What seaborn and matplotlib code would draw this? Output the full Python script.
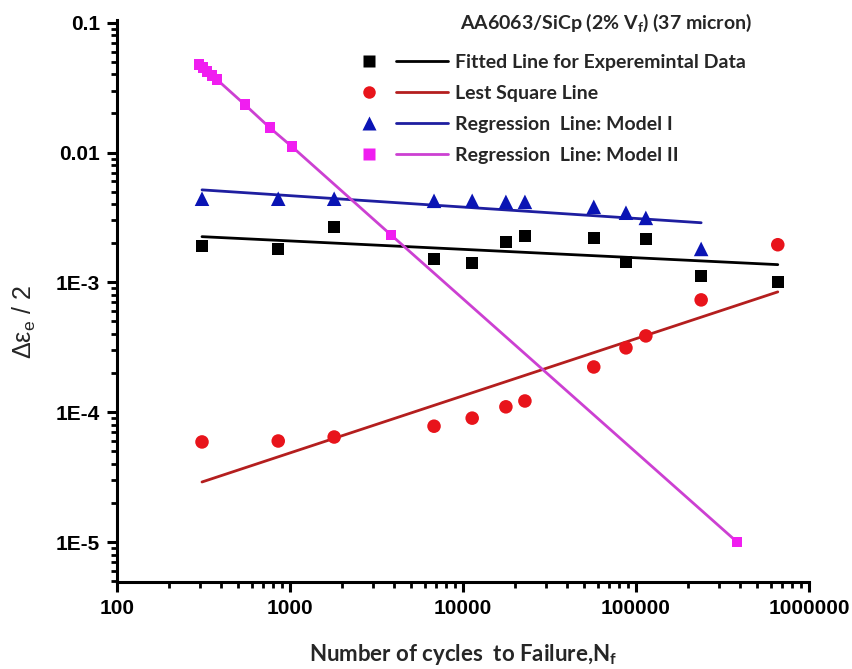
import numpy as np
import pandas as pd
import matplotlib
matplotlib.use("Agg")
import matplotlib.pyplot as plt
import seaborn as sns
from matplotlib.lines import Line2D
from matplotlib.legend_handler import HandlerTuple
from matplotlib.ticker import FixedLocator, FixedFormatter, LogLocator, NullFormatter

# ---------------- data ----------------
cycles = [310, 855, 1800, 6800, 11300, 17700, 22800, 57000, 87500, 114000, 238000, 660000]
exp_strain = [1.91e-3, 1.81e-3, 2.68e-3, 1.52e-3, 1.41e-3, 2.05e-3, 2.28e-3,
              2.20e-3, 1.44e-3, 2.16e-3, 1.12e-3, 1.01e-3]
lsq_strain = [5.9e-5, 6.0e-5, 6.44e-5, 7.8e-5, 9.0e-5, 1.10e-4, 1.22e-4,
              2.23e-4, 3.13e-4, 3.87e-4, 7.33e-4, 1.95e-3]
model1_cycles = [310, 855, 1800, 6800, 11300, 17700, 22800, 57000, 87500, 114000, 238000]
model1_strain = [4.41e-3, 4.41e-3, 4.41e-3, 4.25e-3, 4.25e-3, 4.17e-3, 4.17e-3,
                 3.82e-3, 3.44e-3, 3.14e-3, 1.81e-3]
model2_cycles = [298, 314, 331, 354, 379, 550, 766, 1027, 3837, 384000]
model2_strain = [0.0474, 0.0450, 0.0419, 0.0391, 0.0364, 0.0233, 0.0155, 0.0111, 0.00232, 1.0e-5]

fit_exp_cycles = [310, 660000]
fit_exp_strain = [2.25e-3, 1.37e-3]
fit_lsq_cycles = [310, 660000]
fit_lsq_strain = [2.90e-5, 8.45e-4]
fit_m1_cycles = [310, 238000]
fit_m1_strain = [5.16e-3, 2.88e-3]

labels = ["Fitted Line for Experemintal Data", "Lest Square Line",
          "Regression  Line: Model I", "Regression  Line: Model II"]
x_ticks = [100, 1000, 10000, 100000, 1000000]
x_tick_labels = ["100", "1000", "10000", "100000", "1000000"]
y_ticks = [1e-5, 1e-4, 1e-3, 1e-2, 1e-1]
y_tick_labels = ["1E-5", "1E-4", "1E-3", "0.01", "0.1"]

# ---------------- style ----------------
sns.set_style("ticks")
plt.rcParams["font.family"] = ["Liberation Sans", "DejaVu Sans"]

c_black = "#000000"
c_red_m, c_red_l = "#E8141B", "#B41E1E"
c_blue_m, c_blue_l = "#0A14B4", "#1E1EA0"
c_mag_m, c_mag_l = "#F01EF0", "#CC40D2"

fig = plt.figure(figsize=(8.52, 6.69), dpi=100)
ax = fig.add_axes([117/852, 1-582/669, (809-117)/852, (582-20)/669])

lw = 2.0
# lines
sns.lineplot(x=fit_exp_cycles, y=fit_exp_strain, ax=ax, color=c_black, lw=lw,
             estimator=None, sort=False, legend=False, zorder=2)
sns.lineplot(x=fit_lsq_cycles, y=fit_lsq_strain, ax=ax, color=c_red_l, lw=lw,
             estimator=None, sort=False, legend=False, zorder=2)
sns.lineplot(x=fit_m1_cycles, y=fit_m1_strain, ax=ax, color=c_blue_l, lw=lw,
             estimator=None, sort=False, legend=False, zorder=2)
sns.lineplot(x=model2_cycles, y=model2_strain, ax=ax, color=c_mag_l, lw=lw,
             estimator=None, sort=False, legend=False, zorder=2)
# markers
sns.scatterplot(x=cycles, y=exp_strain, ax=ax, marker="s", color=c_black, s=75,
                edgecolor="none", legend=False, zorder=3)
sns.scatterplot(x=cycles, y=lsq_strain, ax=ax, marker="o", color=c_red_m, s=95,
                edgecolor="none", legend=False, zorder=3)
sns.scatterplot(x=model1_cycles, y=model1_strain, ax=ax, marker="^", color=c_blue_m, s=110,
                edgecolor="none", legend=False, zorder=3)
sns.scatterplot(x=model2_cycles, y=model2_strain, ax=ax, marker="s", color=c_mag_m, s=60,
                edgecolor="none", legend=False, zorder=3)

ax.set_xscale("log")
ax.set_yscale("log")
ax.set_xlim(100, 1e6)
ax.set_ylim(4.92e-6, 0.105)

ax.xaxis.set_major_locator(FixedLocator(x_ticks))
ax.xaxis.set_major_formatter(FixedFormatter(x_tick_labels))
ax.yaxis.set_major_locator(FixedLocator(y_ticks))
ax.yaxis.set_major_formatter(FixedFormatter(y_tick_labels))
ax.xaxis.set_minor_locator(LogLocator(base=10, subs=np.arange(2, 10)))
ax.yaxis.set_minor_locator(LogLocator(base=10, subs=np.arange(2, 10)))
ax.xaxis.set_minor_formatter(NullFormatter())
ax.yaxis.set_minor_formatter(NullFormatter())

for s in ["top", "right"]:
    ax.spines[s].set_visible(False)
for s in ["left", "bottom"]:
    ax.spines[s].set_linewidth(2.2)
    ax.spines[s].set_color("black")
ax.tick_params(which="major", direction="out", length=7, width=2.2, colors="black",
               labelsize=15, pad=5)
ax.tick_params(which="minor", direction="out", length=4, width=2.0, colors="black")
for lab in ax.get_xticklabels() + ax.get_yticklabels():
    lab.set_fontweight("bold")

ax.set_xlabel(r"Number of cycles  to Failure,N$_\mathregular{f}$",
              family=["Lato", "DejaVu Sans"], fontweight="bold", fontsize=16)
ax.xaxis.set_label_coords(0.5, -0.106)
ax.set_ylabel(r"Δε$_\mathregular{e}$ / 2", fontsize=18, fontweight="normal")
ax.yaxis.set_label_coords(-0.114, 0.463)

# title text
fig.text(460/852, 1-23/669, r"AA6063/SiCp (2% V$_\mathregular{f}$) (37 micron)",
         family=["Lato", "DejaVu Sans"], fontweight="bold", fontsize=14,
         ha="left", va="center")

handles = [
    (Line2D([], [], marker="s", ls="none", color=c_black, ms=8.5, mec="none"),
     Line2D([], [], color=c_black, lw=lw)),
    (Line2D([], [], marker="o", ls="none", color=c_red_m, ms=9, mec="none"),
     Line2D([], [], color=c_red_l, lw=lw)),
    (Line2D([], [], marker="^", ls="none", color=c_blue_m, ms=10, mec="none"),
     Line2D([], [], color=c_blue_l, lw=lw)),
    (Line2D([], [], marker="s", ls="none", color=c_mag_m, ms=8, mec="none"),
     Line2D([], [], color=c_mag_l, lw=lw)),
]
leg = fig.legend(handles, labels, handler_map={tuple: HandlerTuple(ndivide=None, pad=0)},
                 loc="upper left", bbox_to_anchor=(343/852, 1-54/669),
                 frameon=False, borderpad=0, borderaxespad=0,
                 handlelength=5.4, handletextpad=0.35, labelspacing=0.72,
                 prop={"family": ["Lato", "DejaVu Sans"], "weight": "bold", "size": 14})

fig.savefig("out.png", dpi=100)
